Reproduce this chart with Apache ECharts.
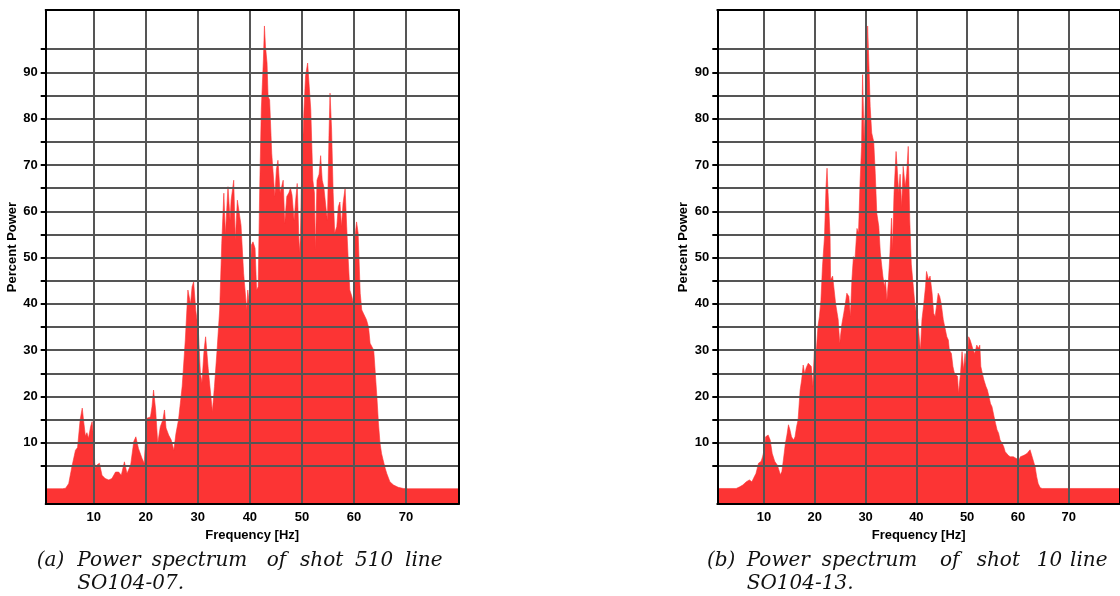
<!DOCTYPE html>
<html><head><meta charset="utf-8">
<script src="https://cdn.jsdelivr.net/npm/echarts@6/dist/echarts.min.js"></script>
<style>html,body{margin:0;padding:0;background:#fff}#c{width:1120px;height:596px}</style>
</head><body><div id="c"></div>
<script>
// ---- data ----
const freqA = [0.8,2,4,4.6,5.2,5.8,6.5,6.9,7.4,7.8,8.1,8.4,8.7,9.0,9.4,9.7,10.0,10.2,10.4,10.6,11.1,11.6,12.2,12.9,13.5,14.2,14.8,15.3,15.9,16.4,17.1,17.7,18.1,18.6,19.3,19.7,20.2,20.9,21.2,21.5,21.9,22.3,22.8,23.3,23.6,23.9,24.4,24.9,25.4,25.8,26.3,27,27.6,28.1,28.6,28.9,29.2,29.6,30.1,30.5,30.8,31.2,31.5,32,32.3,32.8,33.2,33.7,34.2,34.6,35,35.3,35.8,36.2,36.4,36.9,37.2,37.6,37.9,38.3,38.8,39.4,39.6,39.9,40.3,40.6,41,41.3,41.6,41.9,42.2,42.6,42.8,43,43.3,43.5,43.8,44.2,44.5,44.8,45.1,45.4,45.8,46.1,46.4,46.7,47.1,47.5,47.8,48.1,48.5,48.8,49.1,49.5,49.7,50,50.4,50.7,51.1,51.4,51.7,52.1,52.4,52.6,52.9,53.3,53.6,53.9,54.2,54.6,54.9,55.2,55.4,55.7,56,56.3,56.7,57,57.3,57.6,57.9,58.3,58.6,58.9,59.2,59.6,59.9,60.2,60.5,60.8,61.2,61.5,61.8,62.1,62.4,62.8,63.1,63.4,63.8,64.1,64.4,64.7,65,65.3,65.6,66,66.3,66.9,67.6,68.5,69.5,70.5,80.1];
const powerA = [0.1,0.1,0.1,0.2,1.2,4.8,8.4,9,15,17.5,14.4,11.5,12.2,11,13.5,14.6,10.6,5.6,4.5,5.2,5.6,3,2.3,2,2.3,3.7,3.7,3,5.9,3.4,5.2,10.3,11.3,8.8,6.6,5.6,15.3,15.6,17.8,21.4,17.1,9.9,13.5,15,17.1,13.2,11.7,10.6,8.4,12,15,22.2,32.2,43,40,43.7,44.8,38.7,34.4,25,23,30,32.9,26,26.3,16.7,22.2,30,38.7,53,63.9,55,65.3,58,62.4,66.7,53.8,62.4,62.4,57,46.6,38.7,43,40,52.7,53.4,52,43,43.7,65.3,82,92.7,100,95.6,92,84.8,84,72.5,72.9,63.2,69,71,64,65.3,66.7,57.4,63.2,64,65,63.5,58,62.4,66,51,54.5,70.4,82,89.2,92,87,82,66.7,64,51.7,66.7,68,72,66.7,65.3,61,58,76.3,85.5,77.7,64,55.3,56.7,61,62,56.7,61.7,65,56.7,49.5,43,41.6,40,54.5,57.7,55.3,42.3,38.7,38,38,36.6,35,31.5,31.2,30,25,20,14.3,10,7.7,6.3,4.5,3.4,1.6,0.9,0.4,0.15,0.1,0.1];
const freqB = [0.8,4.5,5.2,5.8,6.5,7.1,7.6,7.9,8.4,8.9,9.4,9.7,10,10.3,10.8,11.2,11.6,12.1,12.6,12.9,13.2,13.5,13.8,14.2,14.5,14.8,15.1,15.4,15.8,16.1,16.4,16.7,17.1,17.4,17.7,18,18.3,18.7,19,19.3,19.6,19.9,20.3,20.6,20.9,21.2,21.5,21.9,22.2,22.4,22.6,23,23.1,23.5,23.8,24.1,24.6,24.9,25.3,25.7,26,26.3,26.7,27,27.3,27.6,27.9,28.3,28.6,28.9,29.2,29.4,29.7,30,30.2,30.4,30.7,30.9,31.2,31.6,31.9,32.2,32.6,32.9,33.4,33.7,33.9,34.2,34.5,34.8,35.1,35.3,35.6,36,36.2,36.5,36.8,37.1,37.4,37.8,38.1,38.4,38.7,39,39.4,39.7,40,40.3,40.6,40.8,41.1,41.4,41.8,42,42.4,42.7,43.1,43.4,43.7,44,44.3,44.6,44.9,45.3,45.6,46,46.3,46.5,46.9,47.2,47.5,47.8,48.1,48.3,48.7,49,49.3,49.6,49.9,50.3,50.6,50.9,51.2,51.5,51.9,52.2,52.5,52.7,53,53.3,53.7,54,54.3,54.6,54.9,55.3,55.6,55.9,56.2,56.5,56.9,57.2,57.5,57.8,58.1,58.5,58.8,59.1,59.6,59.9,60.2,60.5,60.8,61.2,61.5,61.8,62.1,62.4,62.7,63,63.4,63.7,64,64.4,64.8,80.1];
const powerB = [0.15,0.15,0.5,0.9,1.6,2,1.6,2.3,3.4,5.6,6,7,8.4,11.3,11.7,10.6,7.7,6,5.2,4.2,3.1,3.8,6.3,9.9,11.7,13.9,12.8,11.3,10.6,11.3,13.5,15,21.4,23.6,26.8,25,26.2,27.2,27.6,26.5,22.2,30,30,35,37.3,40.8,48,54.5,65.3,69.3,64,54.5,45.2,46,46,40,36.6,31.5,35.5,38,40,42.3,41.6,37.3,45.2,50.2,49.5,56.3,55.3,66,74,89.5,75.4,84.8,90,100,90,82.6,76.9,75,68.2,59.6,56.7,51,46,43.7,45.2,40.8,45.2,51,58.5,51.7,64,72.9,69.7,64,68,61,69.7,65.3,68.2,74,58,48.6,43.7,40,38,36.6,32.2,30,36.6,39.4,43.7,47,45.2,46,42.3,38,37.3,36.9,42.3,41.6,40,36.6,35,32.9,32.2,30,29.3,26.5,25,25,24.4,20.7,25,29.7,25.8,29.3,25.8,32.9,32.2,31.1,30,29.3,31.1,30.4,31.1,26.5,25,23.6,22.2,21.4,20,18.5,17.8,15.7,14.2,12.8,12.1,10.6,9.9,9.2,8.1,7.7,7.3,7,6.7,7,6.7,7,6.3,7,7.3,7.3,7.7,7.7,8.1,8.5,8.1,6.3,4.8,2.7,1.2,0.3,0.15,0.15];
const xTicks = [10,20,30,40,50,60,70];
const yTicks = [5,10,15,20,25,30,35,40,45,50,55,60,65,70,75,80,85,90,95];
const yLabels = [10,20,30,40,50,60,70,80,90];
const xRange = [0.78, 80.12];
const yRange = [-3.2, 103.45];
const xName = 'Frequency [Hz]';
const yName = 'Percent Power';
const captionA1 = ['(a)','Power','spectrum','of','shot','510','line'];
const captionA2 = 'SO104-07.';
const captionB1 = ['(b)','Power','spectrum','of','shot','10','line'];
const captionB2 = 'SO104-13.';

// ---- layout / style ----
const RED = '#fc3434';
const panels = [{left:45.7, top:10, width:413, height:494}, {left:717.3, top:10, width:413, height:494}];
const labelFont = {color:'#000', fontFamily:'Liberation Sans', fontWeight:'bold', fontSize:13};
const frame = {show:true, onZero:false, lineStyle:{color:'#000', width:2}};
const gridLine = {show:true, lineStyle:{color:'#555', width:2}};

const grid = [], xAxis = [], yAxis = [], series = [];
const datasets = [[freqA, powerA], [freqB, powerB]];
panels.forEach((p, i) => {
  grid.push(Object.assign({containLabel:false}, p));
  xAxis.push({type:'value', gridIndex:i, min:xRange[0], max:xRange[1], position:'bottom', z:10,
    axisLine:frame, axisTick:{show:false, customValues:xTicks},
    axisLabel:Object.assign({customValues:xTicks, margin:7}, labelFont),
    splitLine:gridLine, name:xName, nameLocation:'middle', nameGap:21, nameTextStyle:labelFont});
  xAxis.push({type:'value', gridIndex:i, min:xRange[0], max:xRange[1], position:'top', z:10,
    axisLine:frame, axisTick:{show:false}, axisLabel:{show:false}, splitLine:{show:false}});
  yAxis.push({type:'value', gridIndex:i, min:yRange[0], max:yRange[1], position:'left', z:10,
    axisLine:frame, axisTick:{show:true, length:5, customValues:yTicks, lineStyle:{color:'#000', width:2}},
    axisLabel:Object.assign({customValues:yLabels, margin:8}, labelFont),
    splitLine:gridLine, name:yName, nameLocation:'middle', nameGap:27, nameRotate:90,
    nameTextStyle:Object.assign({padding:[0,0,0,20]}, labelFont)});
  yAxis.push({type:'value', gridIndex:i, min:yRange[0], max:yRange[1], position:'right', z:10,
    axisLine:frame, axisTick:{show:false}, axisLabel:{show:false}, splitLine:{show:false}});
  const [f, v] = datasets[i];
  series.push({type:'line', xAxisIndex:2*i, yAxisIndex:2*i, symbol:'none', showSymbol:false,
    data:f.map((x, k) => [x, v[k]]), lineStyle:{color:RED, width:0.6},
    areaStyle:{color:RED, opacity:1, origin:'start'}, z:2});
});

const capFont = 'italic 20px "DejaVu Serif"';
const capA1X = [36.7, 77.3, 151.7, 266.7, 300, 355, 405];
const capB1X = [707, 746.7, 821.7, 940, 976.7, 1036.7, 1070];
const elements = [];
function addLine(words, xs, y) { words.forEach((w, k) => elements.push({type:'text', x:xs[k], y:y,
  style:{text:w, font:capFont, fill:'#111', align:'left', verticalAlign:'middle'}})); }
addLine(captionA1, capA1X, 561);
addLine([captionA2], [77.3], 584);
addLine(captionB1, capB1X, 561);
addLine([captionB2], [746.7], 584);

const chart = echarts.init(document.getElementById('c'), null, {renderer:'canvas'});
chart.setOption({animation:false, backgroundColor:'#fff', grid, xAxis, yAxis, series, graphic:{elements}});
</script></body></html>
